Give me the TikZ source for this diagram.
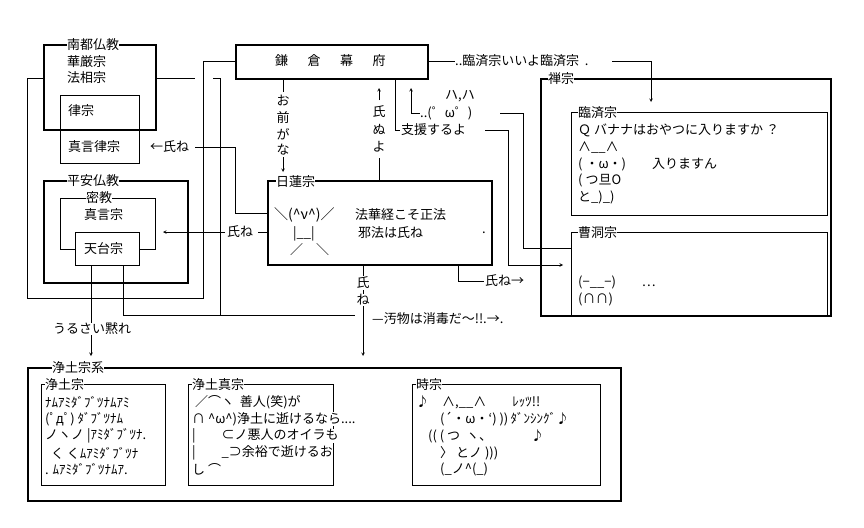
\documentclass[tikz,border=0pt]{standalone}
\usepackage{fontspec}
\setmainfont{Noto Sans CJK JP}
\begin{document}
\begin{tikzpicture}[x=1pt,y=-1pt,
  thick box/.style={draw,line width=1.6pt},
  thin box/.style={draw,line width=0.6pt},
  t/.style={anchor=west,inner sep=0pt,fill=white,font=\fontsize{13}{13}\selectfont},
  tc/.style={inner sep=1pt,fill=white,font=\fontsize{13}{13}\selectfont},
  ln/.style={line width=0.6pt},
  ar/.style={ln,->,>=stealth}]
\useasboundingbox (0,0) rectangle (864,527);
% connectors behind
\draw[ln] (27,78) -- (43,78);
\draw[ln] (27,78) -- (27,298) -- (203,298) -- (203,61) -- (235,61);
\draw[ln] (155,78) -- (195,78);
\draw[ln] (213,78) -- (220,78) -- (220,315);
\draw[ln] (123,265) -- (123,315) -- (355,315);
\draw[ln] (195,147) -- (235,147) -- (235,213) -- (267,213);
\draw[ar] (225,232) -- (163,232);
\draw[ln] (258,232) -- (267,232);
\draw[ar] (91,265) -- (91,356);
\draw[ln] (283,78) -- (283,92);
\draw[ar] (283,150) -- (283,172);
\draw[ar] (379,100) -- (379,88);
\draw[ln] (379,158) -- (379,180);
\draw[ln] (395,78) -- (395,130) -- (400,130);
\draw[ar] (411,113) -- (411,88);
\draw[ln] (411,113) -- (438,113);
\draw[ln] (500,113) -- (523,113) -- (523,248) -- (580,248);
\draw[ln] (485,130) -- (508,130) -- (508,265);
\draw[ar] (508,265) -- (563,265);
\draw[ln] (427,61) -- (455,61);
\draw[ar] (612,61) -- (651,61) -- (651,102);
\draw[ar] (363,264) -- (363,356);
\draw[ln] (458,264) -- (458,281) -- (484,281);
% boxes
\node[thick box,minimum width=112,minimum height=85,anchor=north west] (nanto) at (43,44) {};
\node[thin box,minimum width=79,minimum height=68,anchor=north west] (ritsu) at (60,95) {};
\node[thick box,minimum width=144,minimum height=102,anchor=north west] (heian) at (43,180) {};
\node[thin box,minimum width=95,minimum height=51,anchor=north west] (mikkyo) at (60,198) {};
\node[thin box,fill=white,minimum width=64,minimum height=33,anchor=north west] (tendai) at (75,232) {};
\node[thick box,fill=white,minimum width=192,minimum height=34,anchor=north west] (kama) at (235,44) {};
\node[thick box,fill=white,minimum width=224,minimum height=84,anchor=north west] (nichi) at (267,180) {};
\node[thick box,minimum width=290,minimum height=237,anchor=north west] (zen) at (540,78) {};
\node[thin box,fill=white,minimum width=256,minimum height=103,anchor=north west] (rinzai) at (571,112) {};
\node[thin box,fill=white,minimum width=256,minimum height=83,anchor=north west] (soto) at (571,232) {};
\node[thick box,fill=white,minimum width=593,minimum height=133,anchor=north west] (jodokei) at (27,367) {};
\node[thin box,minimum width=124,minimum height=101,anchor=north west] (jodo) at (41,384) {};
\node[thin box,minimum width=145,minimum height=101,anchor=north west] (shin) at (188,384) {};
\node[thin box,minimum width=188,minimum height=101,anchor=north west] (ji) at (412,384) {};
% texts
\node[t] (l1) at (67,45) {南都仏教};
\node[t] (l2) at (67,62) {華厳宗};
\node[t] (l3) at (67,78) {法相宗};
\node[t] (l4) at (68,111) {律宗};
\node[t] (l5) at (68,147) {真言律宗};
\node[t] (l6) at (150,147) {←氏ね};
\node[t] (l7) at (67,181) {平安仏教};
\node[t] (l8) at (86,198) {密教};
\node[t] (l9) at (84,215) {真言宗};
\node[t] (l10) at (84,249) {天台宗};
\node[t] (l11) at (227,232) {氏ね};
\node[t] (l12) at (53,329) {うるさい黙れ};
\node[t] (k) at (275,61) {鎌\hspace{1.5em}倉\hspace{1.5em}幕\hspace{1.5em}府};
\node[tc] (o1) at (283,101) {お};
\node[tc] (o2) at (283,118) {前};
\node[tc] (o3) at (283,134) {が};
\node[tc] (o4) at (283,150) {な};
\node[tc] (s1) at (379,112) {氏};
\node[tc] (s2) at (379,130) {ぬ};
\node[tc] (s3) at (379,147) {よ};
\node[t] (n0) at (276,182) {日蓮宗};
\node[t,font=\fontsize{14}{14}\selectfont] (n1) at (274,215) {＼(\^{}ν\^{})／};
\node[t] (n2) at (293,234) {|\_\_|};
\node[t] (n3) at (290,250) {／\quad ＼};
\node[t] (n4) at (355,215) {法華経こそ正法};
\node[t] (n5) at (358,233) {邪法は氏ね};
\node[t] (n6) at (482,233) {.};
\node[t] (h1) at (445,96) {ハ,ハ};
\node[t] (h2) at (420,113) {..(゜ω゜)};
\node[t] (sh) at (401,130) {支援するよ};
\node[t] (r0) at (455,61) {..臨済宗いいよ臨済宗\ \ .};
\node[t] (z0) at (548,79) {禅宗};
\node[t] (r1) at (578,113) {臨済宗};
\node[t] (r2) at (578,130) {Ｑ バナナはおやつに入りますか ？};
\node[t] (r3) at (578,147) {∧\_\_∧};
\node[t] (r4) at (578,164) {(\ ・ω・)\qquad 入りますん};
\node[t] (r5) at (578,180) {(\ つ旦O};
\node[t] (r6) at (578,197) {と\_)\_)};
\node[t] (so0) at (578,233) {曹洞宗};
\node[t] (so1) at (578,282) {(−\_\_−)\qquad …};
\node[t] (so2) at (578,299) {(∩∩)};
\node[tc] (u1) at (363,283) {氏};
\node[tc] (u2) at (363,300) {ね};
\node[t] (u3) at (485,281) {氏ね→};
\node[t] (u4) at (372,319) {—汚物は消毒だ〜!!.→.};
\node[t] (j0) at (52,368) {浄土宗系};
\node[t] (j1) at (45,385) {浄土宗};
\begin{scope}[every node/.style={t,font=\fontsize{13}{13}\selectfont}]
\node (a1) at (45,402) {ﾅﾑｱﾐﾀﾞﾌﾞﾂﾅﾑｱﾐ};
\node (a2) at (45,419) {(ﾟдﾟ) ﾀﾞﾌﾞﾂﾅﾑ};
\node (a3) at (45,436) {ノヽノ |ｱﾐﾀﾞﾌﾞﾂﾅ.};
\node (a4) at (45,453) {\ \ く くﾑｱﾐﾀﾞﾌﾞﾂﾅ};
\node (a5) at (45,469) {. ﾑｱﾐﾀﾞﾌﾞﾂﾅﾑｱ.};
\end{scope}
\node[t] (b0) at (192,385) {浄土真宗};
\node[t] (b1) at (192,402) {\ ／⌒ヽ\ \ 善人(笑)が};
\node[t] (b2) at (192,419) {∩ \^{}ω\^{})浄土に逝けるなら....};
\node[t] (b3) at (192,436) {|\qquad ⊂ノ悪人のオイラも};
\node[t] (b4) at (192,453) {|\qquad \_⊃余裕で逝けるお};
\node[t] (b5) at (192,469) {し ⌒};
\node[t] (c0) at (416,385) {時宗};
\node[t] (c1) at (416,402) {♪\quad ∧,\_\_∧\qquad {ﾚｯﾂ!!}};
\node[t] (c2) at (440,419) {(´・ω・`) ))\,{ﾀﾞﾝｼﾝｸﾞ}♪};
\node[t] (c3) at (428,436) {(( ( つ\ \ ヽ、\qquad\quad ♪};
\node[t] (c4) at (440,453) {〉 とノ )))};
\node[t] (c5) at (440,469) {(\_ノ\^{}(\_)};
\end{tikzpicture}
\end{document}
